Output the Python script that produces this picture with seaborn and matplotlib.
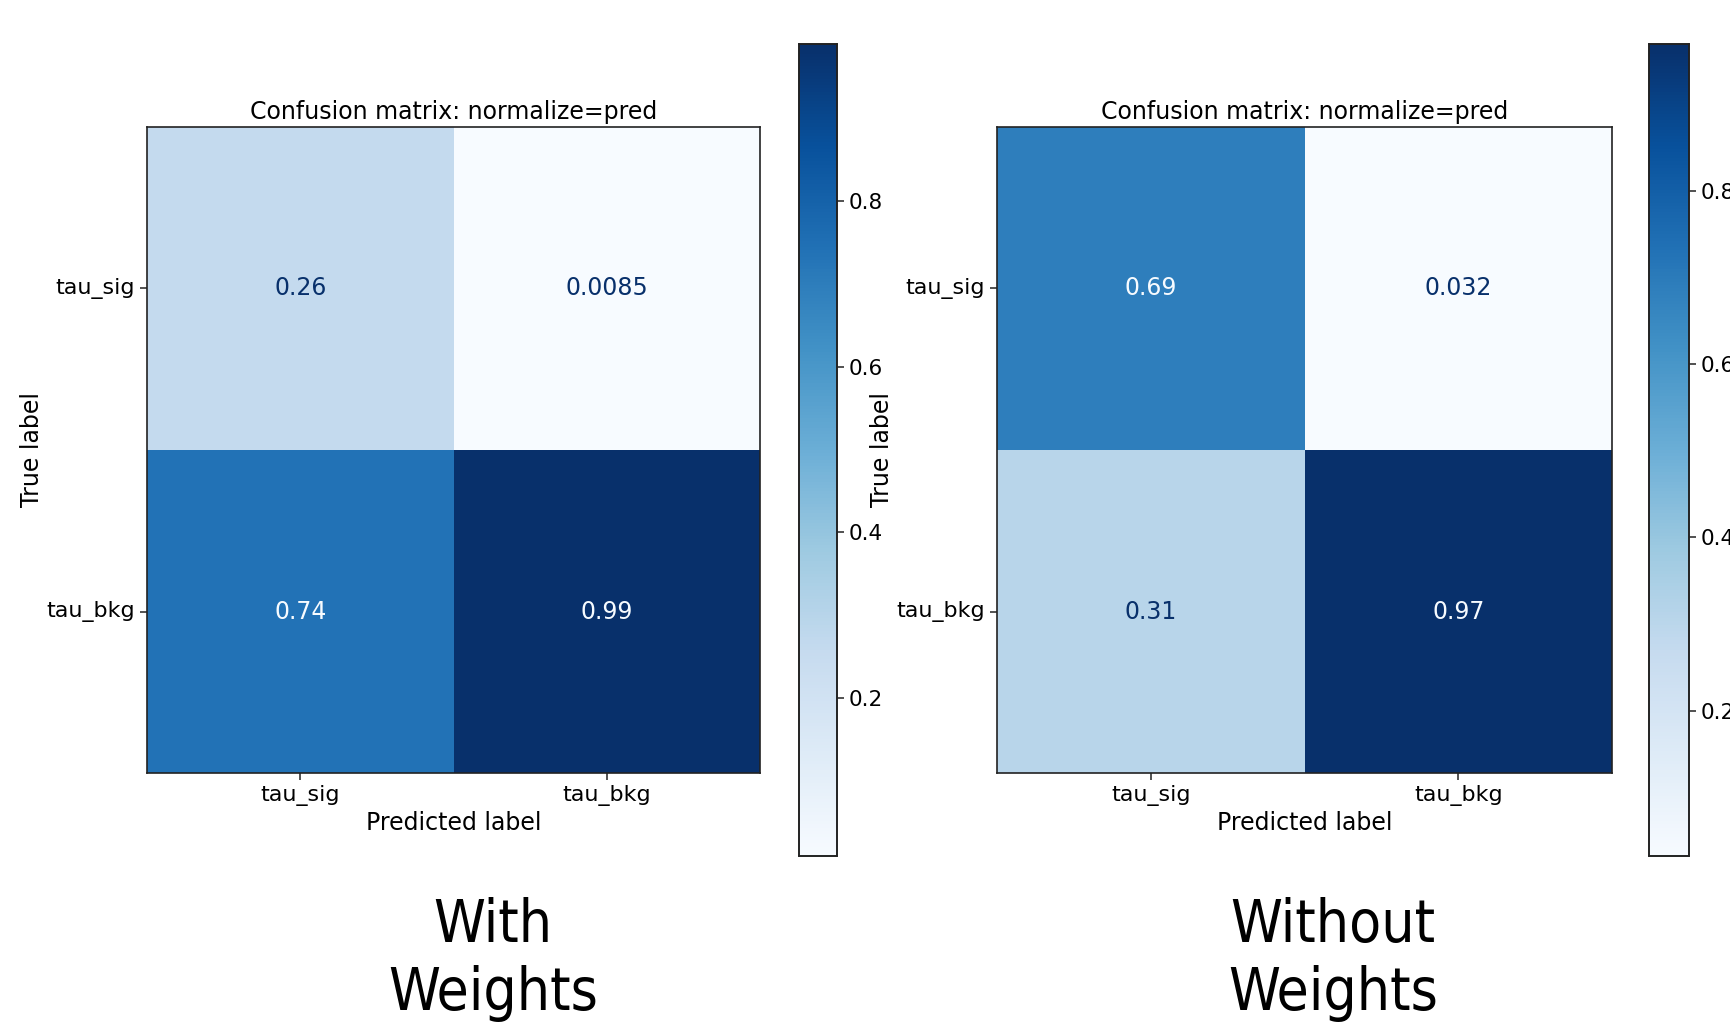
import numpy as np
import pandas as pd
import matplotlib
matplotlib.use("Agg")
import matplotlib.pyplot as plt
import seaborn as sns

# ================================
# Data
# ================================
labels = ["tau_sig", "tau_bkg"]
with_weights = [[0.26, 0.0085],
                [0.74, 0.99]]
without_weights = [[0.69, 0.032],
                   [0.31, 0.97]]
panel_names = ["With\nWeights", "Without\nWeights"]
cbar_ticks = [0.2, 0.4, 0.6, 0.8]

sns.set_style("white")
plt.rcParams["font.family"] = ["DejaVu Sans"]
plt.rcParams["text.color"] = "black"
plt.rcParams["axes.labelcolor"] = "black"
plt.rcParams["xtick.color"] = "black"
plt.rcParams["ytick.color"] = "black"

fig = plt.figure(figsize=(17.3, 10.24), dpi=100)

# axes positions (figure fractions)
ax_pos = [[0.085, 0.2451, 0.3543, 0.6309],
          [0.5763, 0.2451, 0.3555, 0.6309]]
cb_pos = [[0.4618, 0.164, 0.022, 0.793],
          [0.9532, 0.164, 0.0231, 0.793]]
name_x = [0.285, 0.7705]

cmap = plt.get_cmap("Blues")

for k, mat in enumerate([with_weights, without_weights]):
    df = pd.DataFrame(mat, index=labels, columns=labels)
    ax = fig.add_axes(ax_pos[k])
    cax = fig.add_axes(cb_pos[k])
    vmin, vmax = df.values.min(), df.values.max()
    sns.heatmap(df, ax=ax, cbar_ax=cax, cmap="Blues", vmin=vmin, vmax=vmax,
                annot=True, fmt=".2g", annot_kws={"fontsize": 17},
                cbar_kws={"ticks": cbar_ticks})
    # text colour like sklearn's ConfusionMatrixDisplay
    thresh = (vmin + vmax) / 2
    for txt, v in zip(ax.texts, df.values.flatten()):
        txt.set_color(cmap(0.0) if v > thresh else cmap(1.0))

    for sp in ax.spines.values():
        sp.set_visible(True)
        sp.set_color("#222222")
        sp.set_linewidth(1.2)
    ax.tick_params(axis="both", labelsize=16, length=5, width=1.1,
                   left=True, bottom=True, color="#222222")
    ax.set_yticklabels(labels, rotation=0)
    ax.set_xticklabels(labels, rotation=0)
    ax.set_xlabel("Predicted label", fontsize=17)
    ax.set_ylabel("True label", fontsize=17)
    ax.xaxis.labelpad = 4
    ax.yaxis.set_label_coords(-0.168, 0.5)
    ax.set_title("Confusion matrix: normalize=pred", fontsize=17, pad=6)

    cax.tick_params(labelsize=15.5, length=5, width=1.1, right=True, color="#222222")
    for sp in cax.spines.values():
        sp.set_visible(True)
        sp.set_color("#222222")
        sp.set_linewidth(1.2)

    fig.text(name_x[k], 0.0137, panel_names[k], ha="center", va="baseline",
             fontsize=42, linespacing=1.24, color="black",
             fontstretch="condensed")

fig.savefig("out.png", dpi=100, facecolor="white")
